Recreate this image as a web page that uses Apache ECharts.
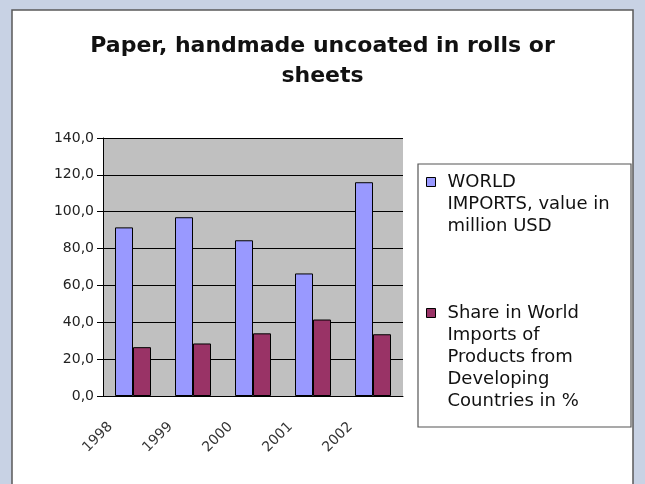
<!DOCTYPE html>
<html>
<head>
<meta charset="utf-8">
<script src="https://cdn.jsdelivr.net/npm/echarts@6/dist/echarts.min.js"></script>
<style>
    html,body{margin:0;padding:0;background:#c8d2e4;}
    #chart{width:645px;height:484px;}
</style>
</head>
<body>
<div id="chart"></div>
<script>
var years=['1998','1999','2000','2001','2002'];
var worldImports=[91.5,97,84.5,66.5,116];
var shareDeveloping=[26.5,28.5,34,41.5,33.5];
var yTicks=[0,20,40,60,80,100,120,140];

var seriesNames=[
    'WORLD\nIMPORTS, value in\nmillion USD',
    'Share in World\nImports of\nProducts from\nDeveloping\nCountries in %'
];

window.onload=function(){

    var myChart=echarts.init(document.getElementById('chart'),null,{renderer:'canvas'});

    var font='DejaVu Sans';

    //图例文字从图标那一行开始：前面补空行，让第一行落在中间
    function topAligned(name){
        var n=name.split('\n').length;
        var pad='';
        for(var i=1;i<n;i++){
            pad=pad+'\n';
        }
        return pad+name;
    }

    var legendText={fontFamily:font,fontSize:18,color:'#111',lineHeight:22,padding:[0,0,0,7]};

    var option={
        backgroundColor:'#c8d2e4',
        animation:false,
        graphic:[
            //白色面板
            {type:'rect',z:-10,shape:{x:12,y:10,width:621,height:480},
             style:{fill:'#ffffff',stroke:'#5a5a5a',lineWidth:1.5}},
            //图例边框
            {type:'rect',z:-5,shape:{x:418,y:164,width:213,height:263},
             style:{fill:'#ffffff',stroke:'#555555',lineWidth:1.2}}
        ],
        title:{
            text:'Paper, handmade uncoated in rolls or\nsheets',
            left:'center',
            top:26,
            textStyle:{fontFamily:font,fontSize:22,fontWeight:'bold',color:'#111',lineHeight:30}
        },
        legend:[
            {
                data:[seriesNames[0]],
                orient:'vertical',
                left:426,
                top:127,
                padding:0,
                icon:'rect',
                itemWidth:9,
                itemHeight:9,
                itemStyle:{borderColor:'#000',borderWidth:1},
                formatter:topAligned,
                textStyle:legendText
            },
            {
                data:[seriesNames[1]],
                orient:'vertical',
                left:426,
                top:214,
                padding:0,
                icon:'rect',
                itemWidth:9,
                itemHeight:9,
                itemStyle:{borderColor:'#000',borderWidth:1},
                formatter:topAligned,
                textStyle:legendText
            }
        ],
        grid:{
            left:103,
            right:242,
            top:138,
            bottom:88,
            show:true,
            backgroundColor:'#c0c0c0',
            borderWidth:0
        },
        xAxis:{
            type:'category',
            data:years,
            boundaryGap:true,
            axisLine:{lineStyle:{color:'#000',width:1}},
            axisTick:{length:6,lineStyle:{color:'#000'}},
            axisLabel:{
                rotate:45,
                margin:6,
                padding:[0,32,0,0],
                fontFamily:font,
                fontSize:14,
                color:'#333'
            }
        },
        yAxis:{
            type:'value',
            min:yTicks[0],
            max:yTicks[yTicks.length-1],
            interval:yTicks[1]-yTicks[0],
            axisLine:{show:true,lineStyle:{color:'#000',width:1}},
            axisTick:{show:true,length:6,lineStyle:{color:'#000'}},
            splitLine:{lineStyle:{color:'#000',width:1}},
            axisLabel:{
                margin:9,
                fontFamily:font,
                fontSize:14,
                color:'#222',
                formatter:function(v){
                    return v.toFixed(1).replace('.',',');
                }
            }
        },
        series:[
            {
                name:seriesNames[0],
                type:'bar',
                data:worldImports,
                barWidth:18,
                barGap:'0%',
                itemStyle:{color:'#9999ff',borderColor:'#000',borderWidth:1}
            },
            {
                name:seriesNames[1],
                type:'bar',
                data:shareDeveloping,
                barWidth:18,
                barGap:'0%',
                itemStyle:{color:'#993366',borderColor:'#000',borderWidth:1}
            }
        ]
    };

    myChart.setOption(option);
}
</script>
</body>
</html>
